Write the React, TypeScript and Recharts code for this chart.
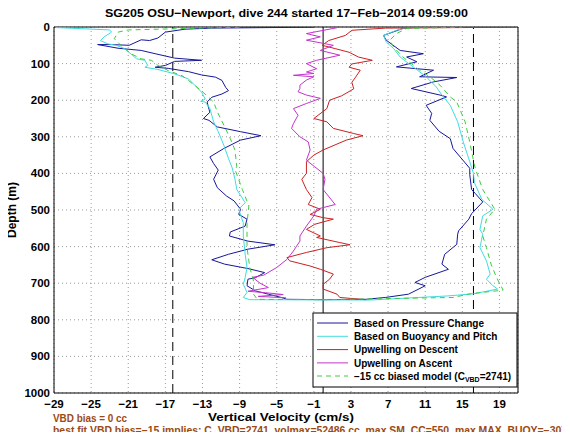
import React from 'react';
import { ScatterChart, Scatter, XAxis, YAxis, CartesianGrid, ReferenceLine } from 'recharts';

// ---- axis setup (values) ----
const X_TICKS = [-29, -25, -21, -17, -13, -9, -5, -1, 3, 7, 11, 15, 19];
const Y_TICKS = [0, 100, 200, 300, 400, 500, 600, 700, 800, 900, 1000];
const X_DOMAIN: [number, number] = [-29, 21];
const Y_DOMAIN: [number, number] = [0, 1000];
const VBD_LIMITS = [-16.2, 16.2];
const ZERO_LINE = 0;

// ---- series: [vertical velocity (cm/s), depth (m)] in dive order ----
const pressureChange: [number, number][] = [
  [-1, 0.5], [-12, 3], [-14.9, 6], [-17.0, 14], [-17.8, 30], [-18.7, 37], [-19.6, 35], [-20.9, 50], [-22.8, 48],
  [-24.3, 48], [-22.1, 58], [-19.6, 64], [-18.1, 73], [-16, 85], [-13.1, 91], [-16, 94], [-17, 105],
  [-18.1, 110], [-16.7, 113], [-14.5, 122], [-13.1, 131], [-11.6, 137], [-10.9, 146], [-10.5, 165],
  [-10.2, 174], [-10.9, 183], [-12, 192], [-12.5, 205], [-12.4, 215], [-12.2, 233], [-12.9, 250],
  [-12.3, 255], [-11.4, 273], [-8.9, 286], [-6.7, 297], [-8.9, 309], [-10.7, 332], [-12.2, 355],
  [-11.8, 373], [-11.3, 391], [-11.8, 416], [-11.4, 439], [-10.4, 462], [-9.6, 475], [-8.9, 498],
  [-9.1, 512], [-8.2, 525], [-8.4, 544], [-10.0, 560], [-10.1, 571], [-8.1, 585], [-5.2, 595],
  [-8.1, 607], [-10.2, 621], [-12.0, 636], [-10.6, 648], [-8.1, 660], [-6.3, 671], [-7.3, 685],
  [-8.1, 689], [-8.2, 707], [-7.3, 721], [-5.9, 730], [-4.5, 739], [-3.9, 744], [0, 745], [4.6, 744],
  [6.7, 739], [9.2, 730], [11.0, 707], [9.9, 698], [11.0, 684], [13.5, 662], [12.8, 648], [13.1, 621],
  [14.4, 594], [14.5, 566], [14.6, 557], [15.7, 525], [16.0, 510], [17.2, 478], [16.4, 455], [16.0, 444],
  [15.8, 403], [15.8, 386], [14.0, 332], [13.7, 305], [12.5, 285], [11.5, 255], [11.7, 236], [11.1, 214],
  [13.3, 191], [12.6, 186], [9.5, 168], [11.9, 150], [14.4, 138], [10.4, 136], [11.9, 118], [7.9, 109],
  [10.1, 95], [9.0, 82], [10.8, 73], [8.3, 64], [6.8, 36], [6.5, 23], [8.6, 4], [10, 1],
];

const buoyancyPitch: [number, number][] = [
  [-28.8, 1.5], [-23, 8], [-22.8, 14], [-23.6, 27], [-24, 37], [-23.2, 46], [-22.3, 50], [-21.4, 59],
  [-20.5, 78], [-20.1, 87], [-19.2, 91], [-18.9, 105], [-19.2, 110], [-17.8, 116], [-16, 128],
  [-14.5, 142], [-13.8, 160], [-13.1, 178], [-12.7, 197], [-13.2, 203], [-12.7, 205], [-12.2, 223],
  [-11.8, 259], [-11.3, 286], [-10.7, 323], [-10.2, 359], [-9.8, 385], [-9.5, 416], [-9.3, 444],
  [-8.4, 480], [-9.1, 498], [-8.6, 535], [-8.6, 571], [-8.4, 621], [-8.2, 657], [-8.4, 685], [-8.6, 703],
  [-8.2, 725], [-8.6, 739], [-7.9, 745], [5, 746], [13.3, 735], [16.2, 729], [18.8, 716], [18.3, 707],
  [17.6, 689], [18, 675], [17.6, 639], [16.9, 603], [17.2, 566], [16.9, 553], [17.2, 516], [18.3, 498],
  [17.1, 471], [16.3, 425], [16.2, 400], [15.8, 368], [15.1, 314], [14.5, 259], [13.7, 214], [12.8, 186],
  [12.2, 164], [11.1, 136], [9.7, 109], [8.3, 82], [7.6, 59], [6.8, 41], [6.5, 23], [7.9, 9], [9, 2], [14, 0.5],
];

const upwellingDescent: [number, number][] = [
  [20.8, 0.5], [6.7, 3], [3.1, 9], [2.4, 23], [0.6, 37], [-0.1, 50], [1.3, 59], [2.8, 69], [3.8, 82],
  [5.3, 91], [3.1, 101], [2.8, 110], [4.0, 118], [3.5, 137], [3.1, 151], [3.3, 169], [2.0, 188], [0.7, 200],
  [0.4, 223], [-1.0, 250], [0.4, 259], [1.1, 277], [3.3, 291], [4.3, 297], [2.5, 309], [0.0, 336],
  [-1.0, 350], [-1.8, 368], [-1.8, 400], [-2.3, 416], [-1.8, 444], [-1.2, 466], [-1.6, 485], [-0.3, 498],
  [-1.4, 512], [0.0, 521], [1.1, 525], [-0.9, 539], [-1.8, 553], [-0.3, 571], [-0.7, 575], [1.8, 589],
  [2.9, 595], [0.4, 603], [-1.8, 616], [-3.9, 630], [-3.6, 639], [-1.4, 653], [-0.3, 662], [1.1, 675],
  [0.7, 689], [0.0, 703], [0.0, 716], [1.5, 730], [1.8, 739], [4.6, 745],
];

const upwellingAscent: [number, number][] = [
  [1.5, 2], [-1.8, 18], [-0.3, 27], [-1.8, 36], [1.1, 50], [-0.3, 64], [1.8, 77], [-0.7, 91], [-1.8, 100],
  [-0.7, 114], [-1.8, 123], [-1.0, 127], [-3.2, 132], [-1.0, 136], [-1.8, 145], [-2.5, 159], [-2.5, 168],
  [-2.7, 177], [-1.8, 186], [-0.3, 195], [-1.8, 209], [-3.2, 223], [-2.7, 241], [-3.2, 264], [-3.4, 277],
  [-2.5, 300], [-1.6, 314], [-1.4, 336], [-1.8, 364], [-0.9, 382], [0.0, 400], [0.2, 416], [0.0, 444],
  [1.3, 485], [-0.7, 498], [-1.0, 516], [-1.8, 544], [-2.5, 571], [-2.5, 585], [-3.2, 612], [-3.9, 635],
  [-5.0, 657], [-6.4, 678], [-7.6, 684], [-6.8, 700], [-5.9, 712], [-8.1, 722], [-6.2, 726], [-4.3, 731],
  [-7.0, 736], [-4.0, 740],
];

const biasedModel: [number, number][] = [
  [-9, 0.5], [-21, 8], [-22.1, 14], [-22.5, 32], [-21.8, 50], [-20.7, 73], [-19.6, 87], [-18.5, 91],
  [-17.8, 105], [-16.7, 119], [-15.2, 133], [-13.8, 160], [-12.5, 188], [-11.8, 205], [-11.4, 232],
  [-10.7, 268], [-10, 305], [-9.5, 336], [-9.3, 382], [-9.5, 389], [-8.7, 444], [-8.0, 489], [-8.2, 535],
  [-8.2, 575], [-8.2, 603], [-7.9, 657], [-7.5, 694], [-7.5, 730], [-7.1, 744], [0, 745], [14, 739],
  [15.8, 729], [19.4, 719], [18.7, 685], [18.1, 648], [17.6, 603], [17.2, 571], [17.6, 525], [18.5, 498],
  [17.2, 444], [16.5, 394], [16.3, 377], [15.8, 314], [15.3, 259], [14.4, 205], [13.7, 191], [12.6, 159],
  [11.5, 136], [10.4, 118], [8.6, 82], [7.6, 55], [7.2, 36], [7.9, 18], [9, 4], [15, 0.5],
];

const TITLE = 'SG205 OSU\u2212Newport, dive 244 started 17\u2212Feb\u22122014 09:59:00';
const X_LABEL = 'Vertical Velocity (cm/s)';
const Y_LABEL = 'Depth (m)';
const NOTE_1 = 'VBD bias = 0 cc';
const NOTE_2 = 'best fit VBD bias=\u221215 implies: C_VBD=2741, volmax=52486 cc, max SM_CC=550, max MAX_BUOY=\u2212307';

const COLORS = {
  pressure: '#16169c',
  buoyancy: '#3fdce2',
  descent: '#cc2020',
  ascent: '#c433cc',
  model: '#3ccc3c',
};

const FONT = '"Liberation Sans", Arial, Helvetica, sans-serif';
const NOTE_COLOR = '#9a4a12';

const toPts = (arr: [number, number][]) => arr.map(([v, d]) => ({ v, d }));
const fmt = (n: number) => String(n).replace('-', '\u2212');
const NoDot = () => <g />;

const W = 554;
const H = 424;

const legendItems = [
  { label: 'Based on Pressure Change', color: COLORS.pressure },
  { label: 'Based on Buoyancy and Pitch', color: COLORS.buoyancy },
  { label: 'Upwelling on Descent', color: COLORS.descent },
  { label: 'Upwelling on Ascent', color: COLORS.ascent },
];

export default function App() {
  const tickStyle = { fontFamily: FONT, fontSize: 11.5, fontWeight: 700, fill: '#000' };
  return (
    <div style={{ position: 'relative', width: W, height: H, background: '#fff' }}>
      <ScatterChart
        width={W}
        height={H}
        margin={{ top: 19, right: 44, bottom: 9, left: 6 }}
      >
        <CartesianGrid stroke="#9a9a9a" strokeDasharray="1 3" />
        <XAxis
          type="number"
          dataKey="v"
          domain={X_DOMAIN}
          ticks={X_TICKS}
          allowDataOverflow
          height={30}
          tickLine={false}
          tickSize={3}
          tickMargin={4}
          axisLine={{ stroke: '#000' }}
          tick={tickStyle}
          tickFormatter={fmt}
        />
        <XAxis xAxisId="top" orientation="top" mirror type="number" domain={X_DOMAIN} ticks={X_TICKS}
          allowDataOverflow tick={false} tickSize={4} tickLine={{ stroke: '#000' }} axisLine={{ stroke: '#000' }} />
        <XAxis xAxisId="bot" orientation="bottom" mirror type="number" domain={X_DOMAIN} ticks={X_TICKS}
          allowDataOverflow tick={false} tickSize={4} tickLine={{ stroke: '#000' }} axisLine={false} />
        <YAxis
          type="number"
          dataKey="d"
          domain={Y_DOMAIN}
          ticks={Y_TICKS}
          reversed
          allowDataOverflow
          width={40}
          tickLine={false}
          tickSize={2}
          tickMargin={2}
          axisLine={{ stroke: '#000' }}
          tick={tickStyle}
        />
        <YAxis yAxisId="right" orientation="right" mirror type="number" domain={Y_DOMAIN} ticks={Y_TICKS}
          reversed allowDataOverflow tick={false} tickSize={4} tickLine={{ stroke: '#000' }} axisLine={{ stroke: '#000' }} />
        <YAxis yAxisId="left2" orientation="left" mirror type="number" domain={Y_DOMAIN} ticks={Y_TICKS}
          reversed allowDataOverflow tick={false} tickSize={4} tickLine={{ stroke: '#000' }} axisLine={false} />
        <ReferenceLine x={VBD_LIMITS[0]} stroke="#000" strokeWidth={1} strokeDasharray="9 5" />
        <ReferenceLine x={VBD_LIMITS[1]} stroke="#000" strokeWidth={1} strokeDasharray="9 5" />
        <ReferenceLine x={ZERO_LINE} stroke="#000" strokeWidth={1} />
        <Scatter data={toPts(pressureChange)} line={{ stroke: COLORS.pressure, strokeWidth: 1 }} lineType="joint"
          shape={NoDot} isAnimationActive={false} legendType="none" />
        <Scatter data={toPts(buoyancyPitch)} line={{ stroke: COLORS.buoyancy, strokeWidth: 1 }} lineType="joint"
          shape={NoDot} isAnimationActive={false} legendType="none" />
        <Scatter data={toPts(upwellingDescent)} line={{ stroke: COLORS.descent, strokeWidth: 1 }} lineType="joint"
          shape={NoDot} isAnimationActive={false} legendType="none" />
        <Scatter data={toPts(upwellingAscent)} line={{ stroke: COLORS.ascent, strokeWidth: 1 }} lineType="joint"
          shape={NoDot} isAnimationActive={false} legendType="none" />
        <Scatter data={toPts(biasedModel)} line={{ stroke: COLORS.model, strokeWidth: 1, strokeDasharray: '5 4' }} lineType="joint"
          shape={NoDot} isAnimationActive={false} legendType="none" />
      </ScatterChart>

      <svg width={562} height={432} style={{ position: 'absolute', left: 0, top: 0, pointerEvents: 'none', overflow: 'visible' }}
        fontFamily={FONT} fontWeight={700}>
        <text x={278.5} y={9.3} fontSize={11.5} textAnchor="middle" textLength={363} lengthAdjust="spacingAndGlyphs">{TITLE}</text>
        <text x={273} y={413} fontSize={11.5} textAnchor="middle" textLength={146} lengthAdjust="spacingAndGlyphs">{X_LABEL}</text>
        <text x={8} y={202} fontSize={12} textAnchor="middle" transform="rotate(-90 8 202)" textLength={56} lengthAdjust="spacingAndGlyphs">{Y_LABEL}</text>
        <text x={45} y={414} fontSize={10} fill={NOTE_COLOR} textLength={74} lengthAdjust="spacingAndGlyphs">{NOTE_1}</text>
        <text x={45} y={425.5} fontSize={10} fill={NOTE_COLOR} textLength={514} lengthAdjust="spacingAndGlyphs">{NOTE_2}</text>

        <g transform="translate(305 305)">
          <rect x={0} y={0} width={204} height={74} fill="#fff" stroke="#000" strokeWidth={1} />
          {legendItems.map((it, i) => (
            <g key={it.label}>
              <line x1={4} x2={35} y1={10 + i * 13.3} y2={10 + i * 13.3} stroke={it.color} strokeWidth={1} />
              <text x={41} y={10 + i * 13.3 + 3.7} fontSize={10}>{it.label}</text>
            </g>
          ))}
          <line x1={4} x2={35} y1={63} y2={63} stroke={COLORS.model} strokeWidth={1} strokeDasharray="5 4" />
          <text x={41} y={66.7} fontSize={10}>
            {'\u221215 cc biased model (C'}
            <tspan fontSize={7} dy={2.5}>VBD</tspan>
            <tspan dy={-2.5}>=2741)</tspan>
          </text>
        </g>
      </svg>
    </div>
  );
}
